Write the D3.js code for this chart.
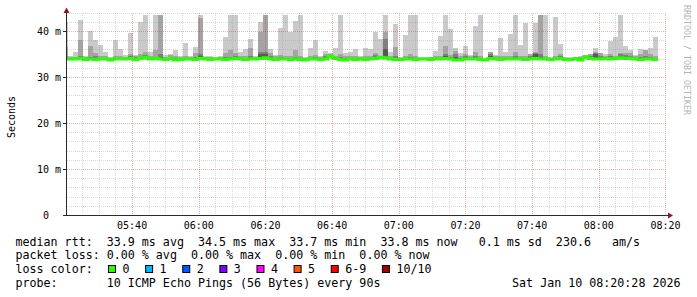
<!DOCTYPE html>
<html lang="en">
<head>
<meta charset="utf-8">
<title>SmokePing median rtt</title>
<style>
  body { margin: 0; background: #fff; }
  svg { display: block; }
  text { font-family: "DejaVu Sans Mono", monospace; fill: #000; white-space: pre; }
  .grid-minor { stroke: rgba(140,140,140,0.32); stroke-dasharray: 1,1; shape-rendering: crispEdges; }
  .grid-major { stroke: rgba(200,50,50,0.38); stroke-dasharray: 1,1; shape-rendering: crispEdges; }
  .smoke rect { shape-rendering: crispEdges; }
</style>
</head>
<body>
<script src="https://cdn.jsdelivr.net/npm/d3@7"></script>
<script>
// one probe every 90s, first (partial) step ends at 05:20:46
var firstStepEnd = new Date(2026, 0, 10, 5, 20, 46),
    stepSeconds = 90;

// sorted pings per step (ms)
var pingMax = [42.0, 34.6, 35.5, 42.4, 34.6, 40.0, 38.0, 37.0, 35.5, 34.3,
  38.0, 36.0, 34.8, 39.6, 34.8, 42.0, 43.5, 35.5, 43.5, 43.5,
  34.8, 35.0, 35.9, 34.6, 37.5, 34.6, 36.6, 43.5, 34.5, 34.6,
  34.3, 34.5, 38.8, 43.5, 43.5, 35.5, 36.0, 38.2, 34.6, 42.0,
  43.5, 36.0, 34.8, 40.6, 43.5, 39.8, 42.2, 43.5, 34.4, 36.2,
  38.1, 34.6, 35.7, 35.2, 36.2, 43.5, 35.2, 35.5, 36.0, 34.5,
  36.2, 36.0, 39.8, 38.2, 43.5, 35.5, 41.5, 34.3, 39.1, 43.5,
  43.5, 34.3, 34.3, 34.4, 35.7, 38.9, 43.5, 40.4, 36.4, 35.3,
  36.7, 34.8, 41.1, 43.5, 34.1, 35.5, 34.8, 38.4, 35.5, 39.3,
  43.5, 37.0, 41.7, 34.9, 41.7, 43.5, 43.5, 34.4, 43.1, 37.2,
  34.3, 34.3, 34.4, 34.5, 34.8, 35.0, 36.4, 35.3, 35.0, 37.9,
  38.8, 43.5, 36.7, 35.9, 34.8, 36.0, 35.9, 36.2, 38.8];

var ping9 = [36.5, 34.3, 34.4, 38.0, 34.3, 36.7, 35.3, 34.6, 34.5, 34.2,
  34.6, 34.5, 34.4, 35.0, 34.6, 35.0, 35.5, 34.5, 35.8, 43.5,
  34.3, 34.8, 34.5, 34.3, 34.6, 34.3, 35.2, 42.8, 34.3, 34.4,
  34.2, 34.3, 35.2, 35.9, 35.3, 34.6, 34.6, 36.2, 34.4, 39.7,
  43.5, 35.3, 34.5, 34.8, 34.6, 34.6, 35.9, 34.6, 34.2, 34.6,
  34.8, 34.4, 35.0, 35.0, 34.6, 35.0, 34.6, 34.5, 34.6, 34.3,
  34.6, 34.6, 35.3, 34.6, 39.8, 34.6, 36.6, 34.2, 34.6, 35.0,
  34.6, 34.2, 34.2, 34.3, 34.6, 34.6, 36.7, 34.8, 35.7, 34.5,
  35.0, 34.5, 35.5, 34.6, 34.0, 35.5, 34.5, 34.6, 34.6, 34.6,
  35.5, 34.6, 34.6, 34.9, 35.5, 43.5, 34.6, 34.2, 34.6, 35.0,
  34.2, 34.2, 34.3, 34.4, 34.8, 35.0, 35.5, 35.2, 34.6, 35.0,
  34.6, 35.3, 35.2, 35.2, 34.5, 35.0, 35.9, 35.0, 34.6];

var ping8 = [34.5, 34.2, 34.2, 34.6, 34.1, 34.3, 34.6, 34.2, 34.2, 34.0,
  34.2, 34.2, 34.2, 34.5, 34.3, 34.4, 34.8, 34.2, 34.4, 35.0,
  34.1, 34.4, 34.1, 34.1, 34.2, 34.2, 34.4, 35.0, 34.2, 34.1,
  34.1, 34.1, 34.4, 34.3, 34.5, 34.2, 34.2, 34.5, 34.2, 35.5,
  35.5, 34.5, 34.1, 34.3, 34.2, 34.2, 34.4, 34.2, 34.0, 34.2,
  34.4, 34.1, 34.5, 34.7, 34.3, 34.3, 34.1, 34.2, 34.2, 34.1,
  34.2, 34.2, 34.8, 34.4, 38.2, 34.2, 34.5, 34.1, 34.2, 34.4,
  34.2, 34.1, 34.1, 34.2, 34.2, 34.2, 35.0, 34.3, 35.0, 34.1,
  34.6, 34.2, 34.5, 34.2, 33.9, 35.0, 34.2, 34.2, 34.2, 34.2,
  34.5, 34.2, 34.2, 34.5, 35.3, 35.0, 34.2, 34.1, 34.2, 34.6,
  34.1, 34.1, 34.2, 34.2, 34.5, 34.6, 35.3, 34.6, 34.3, 34.5,
  34.3, 35.0, 34.8, 34.6, 34.2, 34.4, 34.6, 34.4, 34.1];

var ping7 = [34.2, 34.0, 34.0, 34.4, 33.9, 34.0, 34.0, 34.0, 34.0, 33.8,
  34.0, 34.0, 34.0, 34.1, 34.2, 34.2, 34.4, 34.0, 34.2, 34.3,
  33.9, 34.1, 33.8, 33.9, 34.0, 34.0, 34.0, 34.5, 34.0, 33.9,
  34.0, 34.0, 34.0, 34.0, 34.1, 34.0, 33.9, 34.1, 34.0, 35.0,
  35.0, 34.1, 33.9, 34.0, 34.0, 33.9, 34.0, 33.9, 33.8, 34.0,
  34.1, 33.9, 34.1, 34.6, 34.1, 33.9, 33.8, 34.0, 33.9, 34.0,
  33.9, 34.0, 34.3, 34.4, 36.0, 34.0, 34.0, 33.9, 34.0, 34.0,
  33.9, 34.0, 34.0, 34.1, 34.0, 34.0, 34.6, 34.0, 34.4, 33.8,
  34.1, 34.0, 34.1, 33.9, 33.8, 34.6, 34.0, 33.9, 34.0, 34.0,
  34.1, 34.0, 33.9, 34.2, 35.0, 34.3, 34.0, 33.9, 34.0, 34.3,
  33.9, 33.9, 34.0, 34.0, 34.4, 34.2, 35.0, 34.2, 34.1, 34.1,
  34.1, 34.6, 34.3, 34.3, 34.0, 34.0, 34.1, 34.1, 33.9];

var median = [33.9, 33.9, 33.9, 34.1, 33.8, 33.9, 33.8, 33.9, 33.9, 33.7,
  33.9, 33.9, 33.9, 34.0, 33.8, 34.1, 34.3, 33.9, 34.1, 33.9,
  33.8, 34.0, 33.7, 33.8, 33.9, 33.9, 33.8, 34.1, 33.9, 33.8,
  33.9, 33.9, 33.8, 33.9, 34.0, 33.9, 33.8, 33.9, 33.9, 34.0,
  34.2, 33.9, 33.8, 33.9, 33.9, 33.8, 33.9, 33.8, 33.7, 33.9,
  33.9, 33.8, 33.9, 34.5, 34.0, 33.8, 33.7, 33.9, 33.8, 33.9,
  33.8, 33.9, 34.0, 34.3, 34.2, 33.9, 33.8, 33.8, 33.9, 33.9,
  33.8, 33.9, 33.9, 33.8, 33.9, 33.9, 34.0, 33.9, 33.7, 33.7,
  33.9, 33.9, 33.9, 33.8, 33.7, 34.0, 33.9, 33.8, 33.9, 33.9,
  33.9, 33.9, 33.8, 33.9, 34.0, 33.9, 33.9, 33.8, 33.9, 34.0,
  33.8, 33.8, 33.9, 33.7, 34.3, 34.0, 33.9, 33.9, 34.0, 33.9,
  34.0, 34.2, 34.0, 34.1, 33.9, 33.8, 33.9, 33.9, 33.8];

var pingMin = [33.6, 33.6, 33.6, 33.7, 33.5, 33.6, 33.5, 33.6, 33.6, 33.5,
  33.6, 33.6, 33.6, 33.7, 33.5, 33.7, 33.8, 33.6, 33.7, 33.6,
  33.5, 33.7, 33.5, 33.5, 33.6, 33.6, 33.5, 33.7, 33.6, 33.5,
  33.6, 33.6, 33.5, 33.6, 33.7, 33.6, 33.5, 33.6, 33.6, 33.7,
  33.8, 33.6, 33.5, 33.6, 33.6, 33.5, 33.6, 33.5, 33.5, 33.6,
  33.6, 33.5, 33.6, 34.0, 33.7, 33.5, 33.5, 33.6, 33.5, 33.6,
  33.5, 33.6, 33.7, 33.9, 33.8, 33.6, 33.5, 33.5, 33.6, 33.6,
  33.5, 33.6, 33.6, 33.5, 33.6, 33.6, 33.7, 33.6, 33.5, 33.5,
  33.6, 33.6, 33.6, 33.5, 33.4, 33.7, 33.6, 33.5, 33.6, 33.6,
  33.6, 33.6, 33.5, 33.6, 33.7, 33.6, 33.6, 33.5, 33.6, 33.7,
  33.5, 33.5, 33.6, 33.5, 33.9, 33.7, 33.6, 33.6, 33.7, 33.6,
  33.7, 33.8, 33.7, 33.8, 33.6, 33.5, 33.6, 33.6, 33.5];

var yTicks = [0, 10, 20, 30, 40];
var statNames = ["avg", "max", "min", "now"];
var rttStats = [33.9, 34.5, 33.7, 33.8];
var lossStats = [0, 0, 0, 0];
var rttSd = 0.1, rttAmS = 230.6;
var lossLabels = ["0", "1", "2", "3", "4", "5", "6-9", "10/10"];
var lossColors = ["#26ff00", "#00b8ff", "#0059ff", "#7e00ff", "#ff00ff", "#ff5500", "#ff0000", "#a10000"];
var probeText = "10 ICMP Echo Pings (56 Bytes) every 90s";
var stampText = "Sat Jan 10 08:20:28 2026";

var width = 697, height = 297,
    plotLeft = 67, plotRight = 667, plotTop = 12.6, plotBottom = 215,
    charW = 7.02, legendX = 15.5;

var svg = d3.select("body").append("svg")
  .attr("width", width)
  .attr("height", height);

var x = d3.scaleTime()
  .domain([new Date(2026, 0, 10, 5, 20, 28), new Date(2026, 0, 10, 8, 20, 28)])
  .range([plotLeft, plotRight]);

var y = d3.scaleLinear()
  .domain([0, 44])
  .range([plotBottom, plotTop]);

var steps = pingMax.map(function(d, i){
  var end = d3.timeSecond.offset(firstStepEnd, i * stepSeconds);
  return { i: i, start: d3.timeSecond.offset(end, -stepSeconds), end: end };
});

svg.append("clipPath").attr("id", "plot")
  .append("rect")
  .attr("x", plotLeft).attr("y", 0)
  .attr("width", plotRight - plotLeft).attr("height", plotBottom);

// smoke: outer pair lightest, inner pairs darker
var layers = [
  { lo: pingMin, hi: pingMax, color: "#cacaca" },
  { lo: median, hi: ping9, color: "#a4a4a4" },
  { lo: median, hi: ping8, color: "#7e7e7e" },
  { lo: median, hi: ping7, color: "#585858" }
];

var smoke = svg.append("g").attr("class", "smoke").attr("clip-path", "url(#plot)");
layers.forEach(function(l){
  smoke.append("g").selectAll("rect")
    .data(steps)
    .enter()
    .append("rect")
    .attr("x", function(d){ return x(d.start); })
    .attr("width", function(d){ return x(d.end) - x(d.start); })
    .attr("y", function(d){ return y(l.hi[d.i]); })
    .attr("height", function(d){ return Math.max(0, y(l.lo[d.i]) - y(l.hi[d.i])); })
    .attr("fill", l.color);
});

// grid
var grid = svg.append("g");
var hMinor = d3.range(2, 45, 2).filter(function(v){ return v % 10 !== 0; });
grid.selectAll(".hmin").data(hMinor).enter().append("line")
  .attr("class", "grid-minor")
  .attr("x1", plotLeft).attr("x2", plotRight)
  .attr("y1", function(d){ return Math.round(y(d)) + 0.5; })
  .attr("y2", function(d){ return Math.round(y(d)) + 0.5; });
grid.selectAll(".hmaj").data(yTicks.slice(1)).enter().append("line")
  .attr("class", "grid-major")
  .attr("x1", plotLeft).attr("x2", plotRight)
  .attr("y1", function(d){ return Math.round(y(d)) + 0.5; })
  .attr("y2", function(d){ return Math.round(y(d)) + 0.5; });

var majorTimes = x.ticks(d3.timeMinute.every(20));
var minorTimes = x.ticks(d3.timeMinute.every(5)).filter(function(t){ return t.getMinutes() % 20 !== 0; });
grid.selectAll(".vmin").data(minorTimes).enter().append("line")
  .attr("class", "grid-minor")
  .attr("y1", plotTop).attr("y2", plotBottom)
  .attr("x1", function(d){ return Math.round(x(d)) + 0.5; })
  .attr("x2", function(d){ return Math.round(x(d)) + 0.5; });
grid.selectAll(".vmaj").data(majorTimes).enter().append("line")
  .attr("class", "grid-major")
  .attr("y1", plotTop).attr("y2", plotBottom)
  .attr("x1", function(d){ return Math.round(x(d)) + 0.5; })
  .attr("x2", function(d){ return Math.round(x(d)) + 0.5; });

// median, coloured by loss (0 loss everywhere)
var medPts = [];
steps.forEach(function(d){
  medPts.push([x(d.start), y(median[d.i])]);
  medPts.push([x(d.end), y(median[d.i])]);
});
svg.append("path")
  .attr("clip-path", "url(#plot)")
  .attr("d", d3.line()(medPts))
  .attr("fill", "none")
  .attr("stroke", lossColors[0])
  .attr("stroke-width", 3);

// axes
var axisColor = "#2a2a2a", arrowColor = "#7f1f1f";
svg.append("line")
  .attr("x1", plotLeft - 0.5).attr("x2", plotLeft - 0.5)
  .attr("y1", plotBottom).attr("y2", plotTop - 1)
  .attr("stroke", axisColor);
svg.append("line")
  .attr("x1", plotLeft - 4).attr("x2", plotRight + 1)
  .attr("y1", plotBottom + 0.5).attr("y2", plotBottom + 0.5)
  .attr("stroke", axisColor);
svg.selectAll(".ytick").data(yTicks.slice(1)).enter().append("line")
  .attr("x1", plotLeft - 4).attr("x2", plotLeft)
  .attr("y1", function(d){ return Math.round(y(d)) + 0.5; })
  .attr("y2", function(d){ return Math.round(y(d)) + 0.5; })
  .attr("stroke", axisColor);
svg.append("path")
  .attr("d", "M" + (plotLeft - 0.5) + ",7.5L" + (plotLeft - 3.5) + ",13L" + (plotLeft + 2.5) + ",13Z")
  .attr("fill", arrowColor);
svg.append("path")
  .attr("d", "M" + (plotRight + 6) + "," + (plotBottom + 0.5) + "L" + (plotRight + 1) + "," + (plotBottom - 2.5) + "L" + (plotRight + 1) + "," + (plotBottom + 3.5) + "Z")
  .attr("fill", arrowColor);

// tick labels
var fmt = d3.timeFormat("%H:%M");
svg.selectAll(".xlab").data(majorTimes).enter().append("text")
  .attr("x", function(d){ return x(d); })
  .attr("y", 228.7)
  .attr("font-size", 10)
  .attr("text-anchor", "middle")
  .text(function(d){ return fmt(d); });

svg.selectAll(".ylab").data(yTicks).enter().append("text")
  .attr("x", 61)
  .attr("y", function(d){ return y(d); })
  .attr("dy", "0.36em")
  .attr("font-size", 10)
  .attr("text-anchor", "end")
  .text(function(d){ return d === 0 ? "0  " : d + " m"; });

svg.append("text")
  .attr("transform", "translate(14.5,117) rotate(-90)")
  .attr("font-size", 10)
  .attr("text-anchor", "middle")
  .text("Seconds");

svg.append("text")
  .attr("transform", "translate(684,5) rotate(90)")
  .attr("font-size", 8.3)
  .style("fill", "#b4b4b4")
  .text("RRDTOOL / TOBI OETIKER");

// legend
var rttLine = "median rtt:  " + rttStats.map(function(v, i){
    return v.toFixed(1) + " ms " + statNames[i];
  }).join("  ") + "  " + d3.format("4.1f")(rttSd) + " ms sd  " + rttAmS.toFixed(1) + "   am/s";
var lossLine = "packet loss: " + lossStats.map(function(v, i){
    return v.toFixed(2) + " % " + statNames[i];
  }).join("  ");

var fs = 11.67;
svg.append("text").attr("x", legendX).attr("y", 245.5).attr("font-size", fs).text(rttLine);
svg.append("text").attr("x", legendX).attr("y", 259.2).attr("font-size", fs).text(lossLine);
svg.append("text").attr("x", legendX).attr("y", 272.9).attr("font-size", fs).text("loss color:");
svg.append("text").attr("x", legendX).attr("y", 286.6).attr("font-size", fs).text("probe:       " + probeText);
svg.append("text").attr("x", 680.5).attr("y", 286.6).attr("font-size", fs)
  .attr("text-anchor", "end").text(stampText);

var bx = 108.5;
lossLabels.forEach(function(lab, i){
  svg.append("rect")
    .attr("x", bx).attr("y", 265.5)
    .attr("width", 7).attr("height", 7)
    .attr("fill", lossColors[i])
    .attr("stroke", "#000");
  svg.append("text")
    .attr("x", bx + 14)
    .attr("y", 272.9)
    .attr("font-size", fs)
    .text(lab);
  bx = bx + 14 + lab.length * charW + 16.1;
});
</script>
</body>
</html>
